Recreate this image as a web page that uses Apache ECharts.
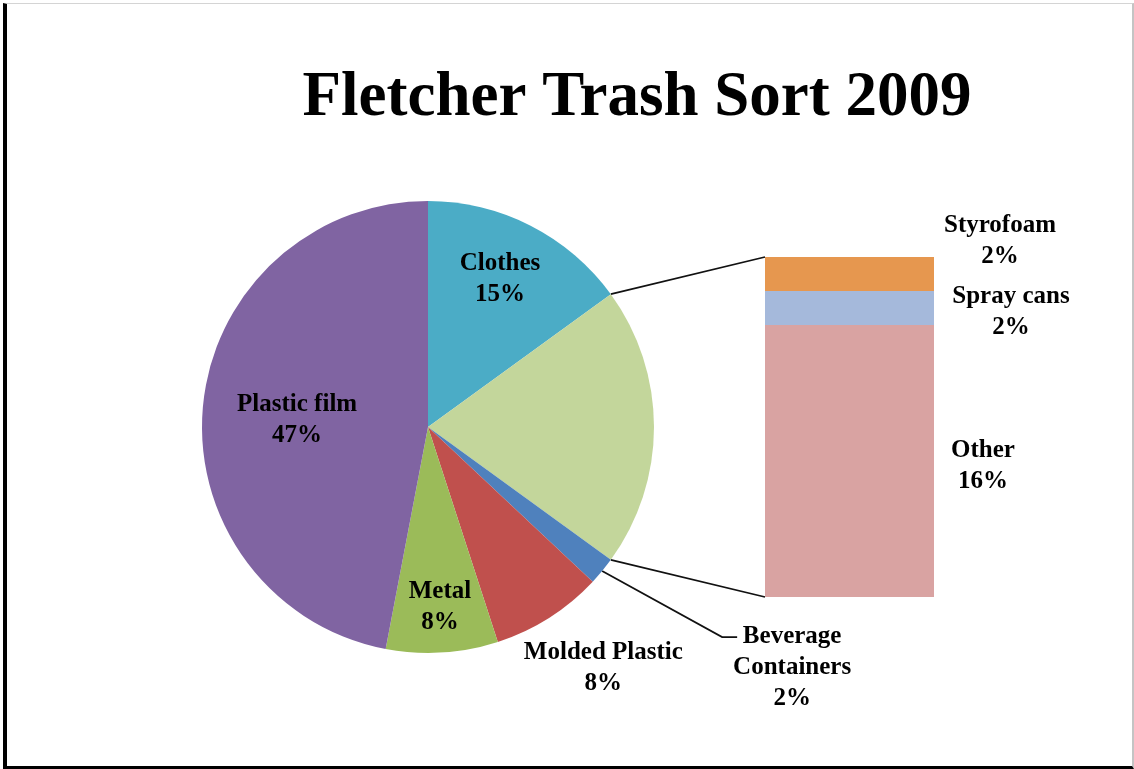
<!DOCTYPE html>
<html>
<head>
<meta charset="utf-8">
<title>Fletcher Trash Sort 2009</title>
<script src="https://cdn.jsdelivr.net/npm/echarts@6/dist/echarts.min.js"></script>
<style>
  html, body { margin: 0; padding: 0; background: #fff; }
  #chart { width: 1134px; height: 769px; }
  #frame {
    position: absolute; left: 3px; top: 3px; width: 1125px; height: 762px;
    border-left: 4px solid #000; border-top: 1px solid #d4d4d4;
    border-right: 2px solid #c4c4c4; border-bottom: 3px solid #000;
    pointer-events: none;
  }
</style>
</head>
<body>
<div id="chart"></div>
<div id="frame"></div>
<script>
// Pie slices (percent), clockwise from 12 o'clock; the grouped slice is inserted after Clothes
const pieNames  = ['Clothes', 'Beverage Containers', 'Molded Plastic', 'Metal', 'Plastic film'];
const pieLabels = ['Clothes', 'Beverage\nContainers', 'Molded Plastic', 'Metal', 'Plastic film'];
const pieValues = [15, 2, 8, 8, 47];

// Breakdown of the grouped slice, top to bottom of the stacked bar (percent)
const barNames  = ['Styrofoam', 'Spray cans', 'Other'];
const barValues = [2, 2, 16];

const TITLE = 'Fletcher Trash Sort 2009';

// ---- styling / layout ----
const FONT = 'Liberation Serif, Times New Roman, serif';
const pieColors = {
  'Clothes': '#4BACC6', 'group': '#C3D69B', 'Beverage Containers': '#4F81BD',
  'Molded Plastic': '#C0504D', 'Metal': '#9BBB59', 'Plastic film': '#8064A2'
};
const barColors = { 'Styrofoam': '#E6974F', 'Spray cans': '#A5B9DB', 'Other': '#D9A3A2' };
const PIE_C = [428, 427];
const PIE_R = 226;
const BAR_GRID = { left: 765, top: 257, width: 169, height: 340 };
// label placement: radius as a fraction of the pie radius, angle nudge in degrees
const pieLabelPlace = {
  'Clothes': { frac: 0.73, nudge: -1.1 },
  'Beverage Containers': { frac: 1.93, nudge: -6.2 },
  'Molded Plastic': { frac: 1.32, nudge: -3.6 },
  'Metal': { frac: 0.80, nudge: -0.2 },
  'Plastic film': { frac: 0.58, nudge: -2.3 }
};
// bar label offsets from the right-middle of each segment
const barLabelOffset = { 'Styrofoam': [66, -33], 'Spray cans': [77, 4], 'Other': [49, 5] };

// ---- assemble the pie data ----
const groupTotal = barValues.reduce((a, b) => a + b, 0);
const pieData = [];
pieNames.forEach((n, i) => {
  pieData.push({ name: n, value: pieValues[i], label: { formatter: pieLabels[i] + '\n{c}%' },
                 itemStyle: { color: pieColors[n] } });
  if (i === 0) {
    pieData.push({ name: 'group', value: groupTotal, label: { show: false },
                   itemStyle: { color: pieColors.group } });
  }
});
const pieTotal = pieData.reduce((a, d) => a + d.value, 0);

function angleAt(index) { // degrees clockwise from 12 o'clock where slice `index` starts
  let s = 0;
  for (let k = 0; k < index; k++) s += pieData[k].value;
  return s / pieTotal * 360;
}
function polar(deg, r) {
  const a = deg * Math.PI / 180;
  return [PIE_C[0] + r * Math.sin(a), PIE_C[1] - r * Math.cos(a)];
}
function midAngle(index) { return (angleAt(index) + angleAt(index + 1)) / 2; }

// ---- stacked bar series: bottom segment first ----
const barSeries = [];
for (let i = barNames.length - 1; i >= 0; i--) {
  const n = barNames[i];
  barSeries.push({
    type: 'bar', name: n, stack: 'group', barWidth: '100%',
    data: [barValues[i]],
    itemStyle: { color: barColors[n] },
    label: {
      show: true, position: ['100%', '50%'], offset: barLabelOffset[n],
      align: 'center', verticalAlign: 'middle',
      formatter: n + '\n{c}%',
      fontFamily: FONT, fontWeight: 'bold', fontSize: 25, lineHeight: 31, color: '#000'
    },
    emphasis: { disabled: true }, silent: true
  });
}

const chart = echarts.init(document.getElementById('chart'), null, { renderer: 'canvas' });
chart.setOption({
  animation: false,
  backgroundColor: '#fff',
  title: {
    text: TITLE, left: 632, top: 62, textAlign: 'center',
    textStyle: { fontFamily: FONT, fontWeight: 'bold', fontSize: 63, color: '#000' }
  },
  grid: Object.assign({ containLabel: false }, BAR_GRID),
  xAxis: { type: 'category', data: ['group'], show: false },
  yAxis: { type: 'value', min: 0, max: groupTotal, show: false },
  series: [{
    type: 'pie', center: PIE_C, radius: PIE_R, startAngle: 90, clockwise: true,
    avoidLabelOverlap: false, silent: true, emphasis: { disabled: true },
    data: pieData,
    label: {
      show: true, position: 'inside',
      fontFamily: FONT, fontWeight: 'bold', fontSize: 25, lineHeight: 31, color: '#000'
    },
    labelLine: { show: false },
    labelLayout: function (p) {
      const d = pieData[p.dataIndex];
      const place = pieLabelPlace[d.name];
      if (!place) return {};
      const pt = polar(midAngle(p.dataIndex) + place.nudge, PIE_R * place.frac);
      return { x: pt[0], y: pt[1], align: 'center', verticalAlign: 'middle' };
    }
  }].concat(barSeries)
});

// ---- connector lines from the grouped slice to the bar, and the Beverage leader ----
const gi = pieData.findIndex(d => d.name === 'group');
const pTop = polar(angleAt(gi), PIE_R);
const pBot = polar(angleAt(gi + 1), PIE_R);
const barCx = chart.convertToPixel({ xAxisIndex: 0 }, 'group');
const barLeft = barCx - BAR_GRID.width / 2;
const yTop = chart.convertToPixel({ yAxisIndex: 0 }, groupTotal);
const yBot = chart.convertToPixel({ yAxisIndex: 0 }, 0);

const bi = pieData.findIndex(d => d.name === 'Beverage Containers');
const bStart = polar(midAngle(bi), PIE_R);
const bLabel = polar(midAngle(bi) + pieLabelPlace['Beverage Containers'].nudge,
                     PIE_R * pieLabelPlace['Beverage Containers'].frac);
const bEnd = [bLabel[0] - 55, bLabel[1] - 30];
const bElbow = [bEnd[0] - 15, bEnd[1]];

const lineStyle = { stroke: '#111', lineWidth: 1.7, fill: null };
chart.setOption({
  graphic: [
    { type: 'line', silent: true, shape: { x1: pTop[0], y1: pTop[1], x2: barLeft, y2: yTop }, style: lineStyle },
    { type: 'line', silent: true, shape: { x1: pBot[0], y1: pBot[1], x2: barLeft, y2: yBot }, style: lineStyle },
    { type: 'polyline', silent: true, shape: { points: [bStart, bElbow, bEnd] }, style: lineStyle }
  ]
});
</script>
</body>
</html>
